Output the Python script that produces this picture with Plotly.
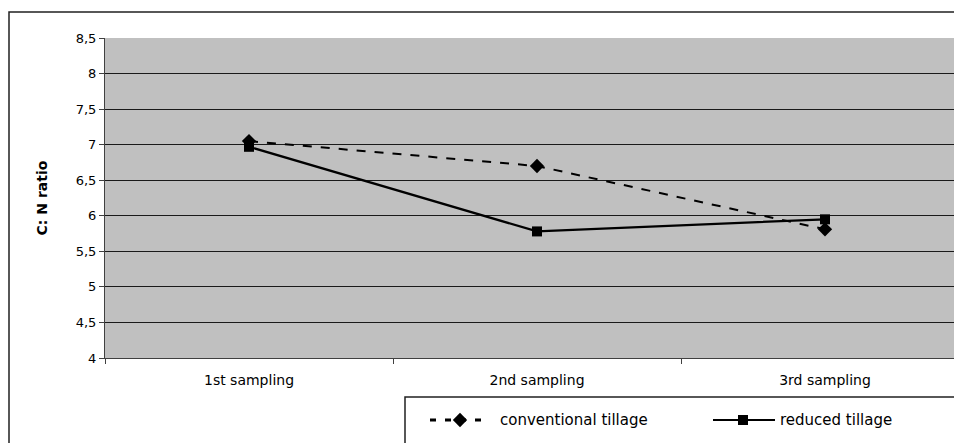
import plotly.graph_objects as go

categories = ["1st sampling", "2nd sampling", "3rd sampling"]
conventional = [7.05, 6.70, 5.81]
reduced = [6.97, 5.78, 5.95]
y_ticks = [4, 4.5, 5, 5.5, 6, 6.5, 7, 7.5, 8, 8.5]
y_tick_labels = ["4", "4,5", "5", "5,5", "6", "6,5", "7", "7,5", "8", "8,5"]
series_names = ["conventional tillage", "reduced tillage"]

W, H = 954, 443
L, T = 105, 38
PLOT_BOTTOM = 358          # pixel row of the x axis
cat_px = 288               # pixel width of one category slot
area_w = W - L
area_h = H - T

def px_x(p):
    return (p - L) / area_w

def px_y(p):
    return (H - p) / area_h

font = "DejaVu Sans, Liberation Sans, Arial, sans-serif"
fig = go.Figure()

# data series on the main axes
fig.add_trace(go.Scatter(
    x=categories, y=conventional, name=series_names[0],
    mode="lines+markers", showlegend=False,
    line=dict(color="black", width=2, dash="dash"),
    marker=dict(symbol="diamond", size=11, color="black"),
))
fig.add_trace(go.Scatter(
    x=categories, y=reduced, name=series_names[1],
    mode="lines+markers", showlegend=False,
    line=dict(color="black", width=2.2),
    marker=dict(symbol="square", size=10, color="black"),
))

# legend samples on a hidden pixel-scaled pair of axes below the chart
leg_y = H - 420
fig.add_trace(go.Scatter(
    x=[430, 460, 490], y=[leg_y] * 3, xaxis="x2", yaxis="y2",
    mode="lines", showlegend=False, hoverinfo="skip",
    line=dict(color="black", width=3, dash="6px,9px"),
))
fig.add_trace(go.Scatter(
    x=[460], y=[leg_y], xaxis="x2", yaxis="y2",
    mode="markers", showlegend=False, hoverinfo="skip",
    marker=dict(symbol="diamond", size=11, color="black"),
))
fig.add_trace(go.Scatter(
    x=[713, 775], y=[leg_y] * 2, xaxis="x2", yaxis="y2",
    mode="lines", showlegend=False, hoverinfo="skip",
    line=dict(color="black", width=2.2),
))
fig.add_trace(go.Scatter(
    x=[743], y=[leg_y], xaxis="x2", yaxis="y2",
    mode="markers", showlegend=False, hoverinfo="skip",
    marker=dict(symbol="square", size=10, color="black"),
))

fig.update_layout(
    width=W, height=H,
    margin=dict(l=L, r=0, t=T, b=0, pad=0, autoexpand=False),
    paper_bgcolor="white",
    plot_bgcolor="rgba(0,0,0,0)",
    font=dict(family=font, size=13, color="black"),
    showlegend=False,
    xaxis=dict(
        type="category", range=[-0.5, -0.5 + area_w / cat_px],
        domain=[0, 1], anchor="y",
        showgrid=False, showline=True, linecolor="#404040", linewidth=1,
        ticks="outside", tickson="boundaries", ticklen=5, tickcolor="#404040",
        tickfont=dict(size=14), ticklabelstandoff=9,
        automargin=False, fixedrange=True,
    ),
    yaxis=dict(
        range=[4, 8.5], tickvals=y_ticks, ticktext=y_tick_labels,
        domain=[px_y(PLOT_BOTTOM), 1], anchor="x",
        showgrid=True, gridcolor="#1a1a1a", gridwidth=1,
        showline=True, linecolor="#404040", linewidth=1,
        ticks="outside", ticklen=5, tickcolor="#404040",
        tickfont=dict(size=13), zeroline=False, automargin=False,
        title=dict(text="<b>C: N ratio</b>", font=dict(size=14), standoff=24),
    ),
    xaxis2=dict(range=[L, W], domain=[0, 1], anchor="y2", visible=False, fixedrange=True),
    yaxis2=dict(range=[0, H - PLOT_BOTTOM], domain=[0, px_y(PLOT_BOTTOM)],
                anchor="x2", visible=False, fixedrange=True),
    shapes=[
        # grey plot area
        dict(type="rect", xref="x domain", yref="y domain", x0=0, x1=1, y0=0, y1=1,
             line=dict(width=0), fillcolor="#C0C0C0", layer="below"),
        # chart frame
        dict(type="rect", xref="paper", yref="paper",
             x0=px_x(9), x1=px_x(1000), y0=px_y(480), y1=px_y(12),
             line=dict(color="#202020", width=1.5), fillcolor="rgba(0,0,0,0)", layer="below"),
        # legend frame
        dict(type="rect", xref="paper", yref="paper",
             x0=px_x(405), x1=px_x(1000), y0=px_y(480), y1=px_y(397),
             line=dict(color="#202020", width=1.5), fillcolor="rgba(0,0,0,0)", layer="below"),
    ],
    annotations=[
        dict(text=series_names[0], xref="x2", yref="y2", x=498, y=leg_y,
             xanchor="left", yanchor="middle", showarrow=False, font=dict(size=15)),
        dict(text=series_names[1], xref="x2", yref="y2", x=778, y=leg_y,
             xanchor="left", yanchor="middle", showarrow=False, font=dict(size=15)),
    ],
)

fig.write_html("out.html")
